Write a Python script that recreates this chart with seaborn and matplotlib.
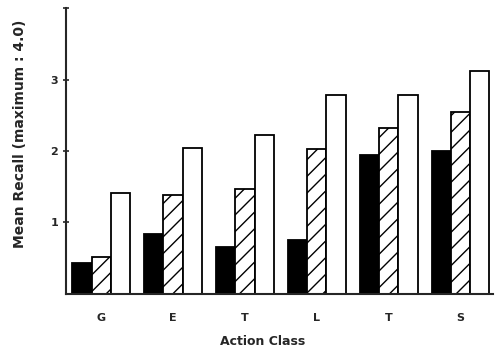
import numpy as np
import pandas as pd
import matplotlib
matplotlib.use("Agg")
import matplotlib.pyplot as plt
import seaborn as sns

# values
classes = ["G", "E", "T", "L", "T", "S"]
black_vals = [0.43, 0.84, 0.65, 0.76, 1.95, 2.00]
hatch_vals = [0.51, 1.39, 1.47, 2.03, 2.32, 2.54]
white_vals = [1.41, 2.04, 2.23, 2.79, 2.78, 3.12]
conditions = ["black", "hatched", "white"]

rows = []
for i in range(len(classes)):
    for cond, vals in zip(conditions, [black_vals, hatch_vals, white_vals]):
        rows.append({"pos": str(i), "cond": cond, "recall": vals[i]})
df = pd.DataFrame(rows)

sns.set_style("ticks")
plt.rcParams['font.family'] = ['DejaVu Sans']

fig = plt.figure(figsize=(4.99, 3.52), dpi=100)
ax = fig.add_axes([0.132, 0.165, 0.856, 0.812])

sns.barplot(data=df, x="pos", y="recall", hue="cond", hue_order=conditions,
            palette={"black": "black", "hatched": "white", "white": "white"},
            edgecolor="black", linewidth=1.3, width=0.8, errorbar=None,
            legend=False, ax=ax)

# hatch the middle series
n = len(classes)
for k, bar in enumerate(ax.patches):
    if n <= k < 2 * n:
        bar.set_hatch("//")

ax.set_ylim(0, 4)
ax.set_xlim(-0.49, 5.45)
ax.set_yticks([1, 2, 3, 4])
ax.set_yticklabels(["1", "2", "3", ""], fontweight="bold", fontsize=8)
ax.set_xticks(range(n))
ax.set_xticklabels(classes, fontweight="bold", fontsize=8)
ax.tick_params(axis="x", length=0, pad=14)
ax.tick_params(axis="y", length=4, width=1.2, direction="inout")

ax.set_ylabel("Mean Recall (maximum : 4.0)", fontweight="bold", fontsize=10)
ax.yaxis.set_label_coords(-0.091, 0.56)
ax.set_xlabel("Action Class", fontweight="bold", fontsize=9)
ax.xaxis.set_label_coords(0.46, -0.145)

sns.despine(ax=ax)
ax.spines["left"].set_linewidth(1.5)
ax.spines["bottom"].set_linewidth(1.5)

fig.savefig("out.png", dpi=100)
